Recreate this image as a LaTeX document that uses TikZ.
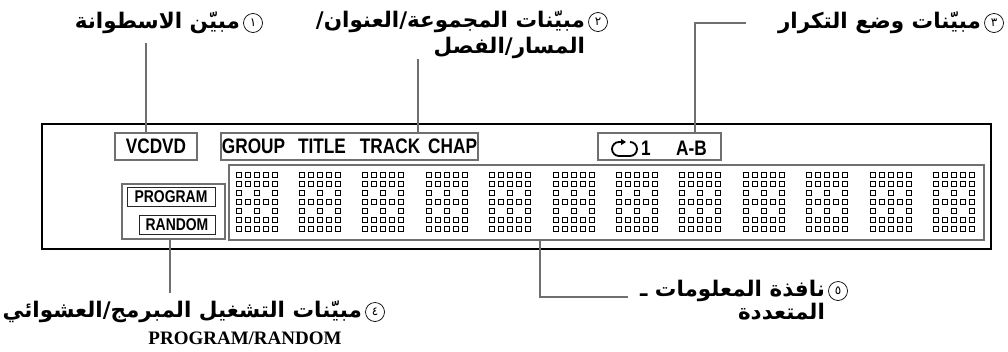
\documentclass[tikz,border=0pt]{standalone}
\usepackage{fontspec}
\setmainfont{Liberation Serif}
\newfontfamily\arabicfont[Script=Arabic]{DejaVu Sans}
\newfontfamily\lcdfont[FakeStretch=0.82]{Liberation Sans}
\usepackage{tikz}
\usetikzlibrary{positioning, arrows.meta}
\TeXXeTstate=1
\definecolor{linegray}{HTML}{6F6F6F}

\begin{document}
\begin{tikzpicture}[
    x=1pt, y=-1pt,
    panel/.style={draw=black, line width=1.4pt},
    graybox/.style={rectangle, draw=linegray, line width=2pt, inner sep=0pt},
    thinbox/.style={rectangle, draw=black!85, line width=1pt, inner sep=0pt},
    lcd/.style={font=\lcdfont\bfseries\fontsize{21}{21}\selectfont, inner sep=0pt},
    lcdsmall/.style={font=\lcdfont\bfseries\fontsize{17}{17}\selectfont, inner sep=0pt},
    conn/.style={draw=linegray, line width=2pt},
    numc/.style={circle, draw, line width=0.7pt, minimum size=19pt, inner sep=0pt, font=\arabicfont\fontsize{12}{12}\selectfont},
    lbl/.style={font=\arabicfont\bfseries\fontsize{21.5}{25}\selectfont, inner sep=0pt},
    dotsq/.style={draw=black, line width=0.8pt}
]
\useasboundingbox (0,0) rectangle (1008,351);

% display panel
\draw[panel] (42,124) rectangle (991,249);

% indicator boxes
\node[graybox, lcd, minimum width=82pt, minimum height=27pt] (vcd) at (156,146.5) {VCDVD};
\node[graybox, lcd, minimum width=257pt, minimum height=27pt] (grp) at (349.5,146.5)
    {GROUP\hspace{13pt}TITLE\hspace{14pt}TRACK\hspace{8pt}CHAP};
\node[graybox, minimum width=123pt, minimum height=27pt] (rpt) at (659.5,146.5) {};
\draw[line width=1.8pt, -{Triangle[length=5pt,width=6pt]}] (630,142)
    arc[start angle=-90, end angle=90, radius=7] -- (619,156)
    arc[start angle=90, end angle=270, radius=7] -- (626,142);
\node[lcd, anchor=west] (one) at (641,148) {1};
\node[lcd, anchor=west] (ab) at (676,148) {A-B};

\node[graybox, minimum width=103pt, minimum height=55pt] (prg) at (173.5,211.5) {};
\node[thinbox, lcdsmall, minimum width=88pt, minimum height=19pt] (prog) at (171,196.5) {PROGRAM};
\node[thinbox, lcdsmall, minimum width=76pt, minimum height=19pt] (rand) at (177,224.5) {RANDOM};

% dot matrix window
\node[graybox, minimum width=755pt, minimum height=75pt] (win) at (606.5,202.5) {};
\foreach \c in {0,...,11}{
    \foreach \r in {0,1,3,5,6}
        \foreach \k in {0,...,4}
            \draw[dotsq] ({236+63.4*\c+9*\k},{172.5+8.9*\r}) rectangle ++(5,5);
    \foreach \r in {2,4}
        \foreach \k in {0,2,4}
            \draw[dotsq] ({236+63.4*\c+9*\k},{172.5+8.9*\r}) rectangle ++(5,5);
}

% labels
\node[numc] (n1) at (253,23) {١};
\node[lbl, left=3pt of n1] (l1) {\beginR مبيّن الاسطوانة\endR};

\node[numc] (n2) at (598,22) {٢};
\node[lbl, left=3pt of n2] (l2a) {\beginR مبيّنات المجموعة\kern0pt/\kern0pt العنوان\kern0pt/\endR};
\node[lbl, anchor=east] (l2b) at ([yshift=-26pt]l2a.east) {\beginR المسار\kern0pt/\kern0pt الفصل\endR};

\node[numc] (n3) at (994,23) {٣};
\node[lbl, left=3pt of n3] (l3) {\beginR مبيّنات وضع التكرار\endR};

\node[numc] (n4) at (375,312) {٤};
\node[lbl, left=3pt of n4] (l4) {\beginR مبيّنات التشغيل المبرمج\kern0pt/\kern0pt العشوائي\endR};
\node[font=\bfseries\fontsize{19}{19}\selectfont, inner sep=0pt] (l4en) at (245,338) {PROGRAM/RANDOM};

\node[numc] (n5) at (838,291) {٥};
\node[lbl, left=3pt of n5] (l5a) {\beginR نافذة المعلومات ـ\endR};
\node[lbl, anchor=east] (l5b) at ([yshift=-21pt]l5a.east) {\beginR المتعددة\endR};

% connectors
\coordinate (e1) at (146,43);
\draw[conn] (e1) -- (e1 |- vcd.north);
\coordinate (e2) at (418,59);
\draw[conn] (e2) -- (e2 |- grp.north);
\coordinate (e3) at (746,23);
\coordinate (k3) at (695,23);
\draw[conn] (e3) -- (k3) -- (k3 |- rpt.north);
\coordinate (e4) at (170,293);
\draw[conn] (e4 |- prg.south) -- (e4);
\coordinate (e5) at (628,297);
\coordinate (k5) at (540,297);
\draw[conn] (k5 |- win.south) -- (k5) -- (e5);
\end{tikzpicture}
\end{document}
